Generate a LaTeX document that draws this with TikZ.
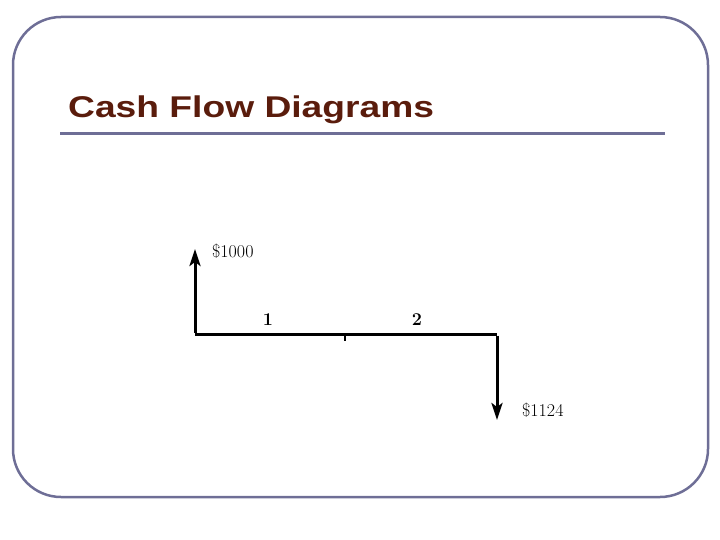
\documentclass[tikz,border=0pt]{standalone}
\usepackage{fontspec}
\newfontfamily\titlefont[FakeStretch=1.24]{Liberation Sans}
\usetikzlibrary{arrows.meta, positioning}
\definecolor{frame_gray}{HTML}{6E6E96}
\definecolor{title_brown}{HTML}{5A1C0C}
\tikzset{
    frame/.style={draw=frame_gray, line width=2.5pt, rounded corners=48pt},
    rule/.style={draw=frame_gray, line width=3pt},
    flow/.style={line width=3pt, -{Stealth[length=17pt, width=11pt, inset=4pt]}},
    axis/.style={line width=3pt},
    amount/.style={font=\fontsize{18}{20}\selectfont, inner sep=1pt},
    period/.style={font=\bfseries\fontsize{18}{20}\selectfont, inner sep=1pt}
}

\begin{document}
\begin{tikzpicture}[x=1pt, y=-1pt]
        \useasboundingbox (0,0) rectangle (720,540);
        \draw[frame] (13,17) rectangle (708,497);

        \node (Title) [anchor=base west, inner sep=0pt, text=title_brown] at (68,118) {\titlefont\bfseries\fontsize{30}{34}\selectfont Cash Flow Diagrams};
        \draw[rule] (60,134) -- (665,134);

        % Time line
        \coordinate (T0) at (195,334);
        \coordinate (T1) at (345,334);
        \coordinate (T2) at (497,334);
        \coordinate (Up) at (195,249);
        \coordinate (Down) at (497,420);
        \draw[axis] (T0) -- (T2);
        \draw[line width=1.5pt] (T1) -- ++(0,7);

        \node (P1) [period] at (268,320) {1};
        \node (P2) [period] at (417,320) {2};

        % Cash flows
        \draw[flow] ([yshift=1.5pt]T0) -- (Up);
        \draw[flow] ([yshift=-1.5pt]T2) -- (Down);
        \node (In) [amount, anchor=base west] at (211,257) {\$1000};
        \node (Out) [amount, anchor=base west] at (521,416) {\$1124};
    \end{tikzpicture}
\end{document}
